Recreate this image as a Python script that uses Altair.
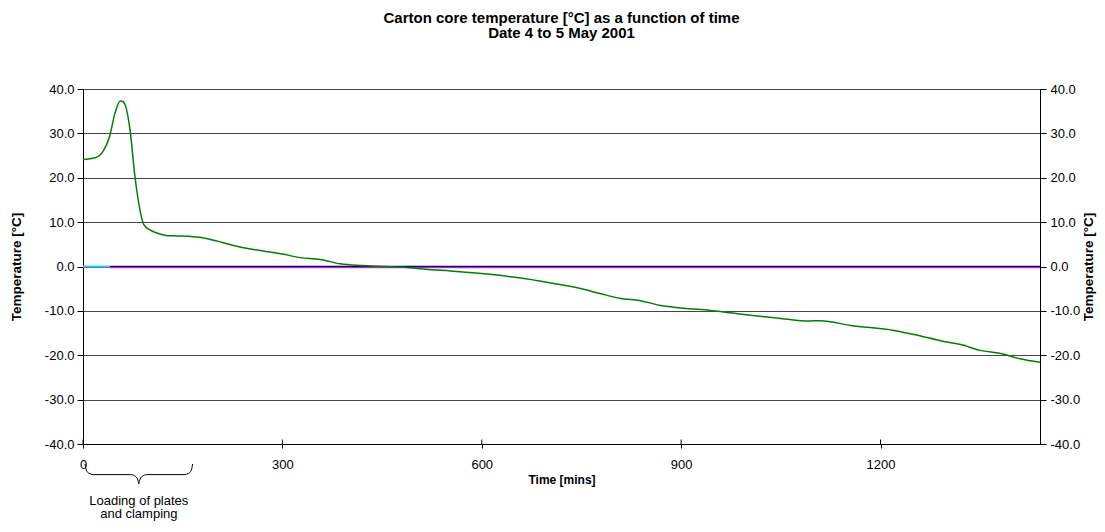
import altair as alt
import pandas as pd

# ---------------- data ----------------
time_min = [0, 10, 20, 30, 40, 48, 56, 60, 64, 71, 78, 86, 92, 100, 110, 125, 140,
            160, 176, 200, 225, 250, 275, 300, 327, 357, 387, 420, 452, 480, 492,
            520, 553, 600, 653, 700, 750, 778, 809, 839, 869, 904, 944, 1005, 1060,
            1090, 1110, 1155, 1220, 1256, 1295, 1321, 1350, 1381, 1410, 1440]
core_temp = [24.1, 24.3, 24.6, 25.9, 29.3, 34.5, 37.3, 37.2, 36.2, 30.5, 20.5, 12.5,
             9.3, 8.3, 7.6, 7.0, 6.9, 6.8, 6.6, 5.8, 4.8, 4.0, 3.4, 2.8, 2.0, 1.6,
             0.6, 0.2, 0.0, -0.1, -0.3, -0.7, -1.0, -1.6, -2.5, -3.6, -5.0, -6.1,
             -7.2, -7.7, -8.8, -9.4, -9.9, -11.0, -11.9, -12.3, -12.2, -13.3, -14.4,
             -15.5, -16.9, -17.6, -18.9, -19.6, -20.8, -21.6]

loading_t = [0, 40]          # light blue reference segment at 0 °C
ref_t = [40, 1440]           # navy / magenta reference lines at 0 °C
ref_v = [0.0, 0.0]

x_ticks = [0, 300, 600, 900, 1200]
y_ticks = [-40, -30, -20, -10, 0, 10, 20, 30, 40]

brace_t = [3, 5, 9, 16, 72, 79, 83, 84, 85, 89, 96, 152, 159, 163, 165]
brace_v = [-44.5, -45.9, -46.6, -46.9, -46.9, -47.3, -48.3, -49.0, -48.3, -47.3,
           -46.9, -46.9, -46.6, -45.9, -44.5]
note_lines = ["Loading of plates", "and clamping"]
note_t = [84, 84]
note_v = [-52.8, -55.7]

title_lines = ["Carton core temperature [°C] as a function of time", "Date 4 to 5 May 2001"]

# ---------------- frames ----------------
green_df = pd.DataFrame({"t": time_min, "v": core_temp})
blue_df = pd.DataFrame({"t": loading_t, "v": ref_v})
navy_df = pd.DataFrame({"t": ref_t, "v": ref_v})
tick_df = pd.DataFrame({"t": x_ticks, "lo": [-40] * len(x_ticks), "hi": [-39] * len(x_ticks)})
brace_df = pd.DataFrame({"t": brace_t, "v": brace_v})
note_df = pd.DataFrame({"t": note_t, "v": note_v, "txt": note_lines})

W, H = 957, 355
FONT = "Liberation Sans"
LBL = "replace(format(datum.value, '.1f'), '\u2212', '-')"

x_scale = alt.Scale(domain=[0, 1440], nice=False, zero=False)
y_scale = alt.Scale(domain=[-40, 40], nice=False, zero=False)

x_axis = alt.Axis(values=x_ticks, format="d", title="Time [mins]", grid=False, tickSize=4,
                  labelPadding=10, labelFlush=False, titleY=39,
                  titleBaseline="alphabetic", titleFontSize=12)
y_left = alt.Axis(values=y_ticks, labelExpr=LBL, orient="left", grid=True,
                  gridColor="#444444", gridWidth=1, tickSize=6, labelPadding=3,
                  title="Temperature [°C]", titleAngle=270, titleX=-60,
                  titleY=H / 2, titleAlign="center", titleBaseline="bottom")
y_right = alt.Axis(values=y_ticks, labelExpr=LBL, orient="right", grid=False,
                   tickSize=6, labelPadding=4, title="Temperature [°C]",
                   titleAngle=270, titleX=55, titleY=H / 2, titleAlign="center",
                   titleBaseline="bottom")

X = alt.X("t:Q", scale=x_scale, axis=x_axis)
Y = alt.Y("v:Q", scale=y_scale, axis=y_left)

magenta = alt.Chart(navy_df).mark_line(color="#ff33cc", strokeWidth=1.5, yOffset=1).encode(x=X, y=Y)
navy = alt.Chart(navy_df).mark_line(color="#000080", strokeWidth=1.5).encode(x=X, y=Y)
blue = alt.Chart(blue_df).mark_line(color="#33ccff", strokeWidth=2).encode(x=X, y=Y)
ticks_in = alt.Chart(tick_df).mark_rule(color="black", strokeWidth=1).encode(
    x=X, y=alt.Y("lo:Q", scale=y_scale, axis=y_left), y2="hi:Q")
brace = alt.Chart(brace_df).mark_line(color="black", strokeWidth=1,
                                      interpolate="monotone", clip=False).encode(x=X, y=Y)
note = alt.Chart(note_df).mark_text(font=FONT, fontSize=13, color="black",
                                    align="center", baseline="middle").encode(
    x=X, y=Y, text="txt:N")

left = alt.layer(magenta, navy, blue, ticks_in, brace, note)

green = alt.Chart(green_df).mark_line(color="#008000", strokeWidth=1.5,
                                      interpolate="monotone").encode(
    x=X, y=alt.Y("v:Q", scale=y_scale, axis=y_right))

chart = alt.layer(left, green).resolve_scale(y="independent").properties(
    width=W, height=H,
    autosize=alt.AutoSizeParams(type="none"),
    padding={"left": 75, "top": 81, "right": 57, "bottom": 80},
    title=alt.TitleParams(text=title_lines, font=FONT, fontSize=15, fontWeight="bold",
                          color="black", anchor="middle", frame="group",
                          offset=42, lineHeight=15.5),
).configure_view(stroke=None).configure_axis(
    labelFont=FONT, labelFontSize=13, labelColor="black",
    titleFont=FONT, titleFontSize=13.5, titleFontWeight="bold", titleColor="black",
    domainColor="black", tickColor="black", domainWidth=1, tickWidth=1,
)

chart.save("out.html", embed_options={"renderer": "svg", "actions": False})
